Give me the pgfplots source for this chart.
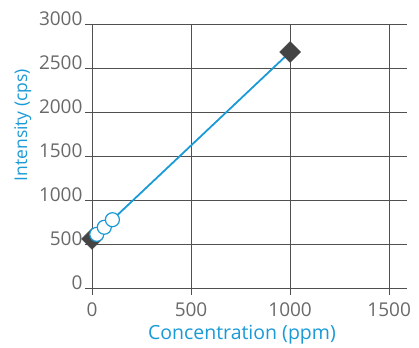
\documentclass[border=0pt]{standalone}
\usepackage{pgfplots}
\pgfplotsset{compat=1.18}
\usepackage{fontspec}
\setmainfont{Open Sans}
\definecolor{cblue}{RGB}{26,154,214}
\definecolor{cgrid}{RGB}{80,80,80}
\definecolor{ctick}{RGB}{105,105,105}
\definecolor{cmark}{RGB}{68,68,68}
\begin{document}
\begin{tikzpicture}
\begin{axis}[
  scale only axis, width=315pt, height=264pt,
  xmin=0, xmax=1590, ymin=0, ymax=3000,
  axis x line=bottom, axis y line=left, axis line style={-, cgrid, line width=0.8pt},
  xtick={0,500,1000,1500}, ytick={0,500,...,3000},
  grid=major, major grid style={cgrid, line width=0.8pt},
  tick align=outside, major tick length=7pt, tick style={cgrid, line width=0.8pt},
  ticklabel style={font=\fontsize{19}{22}\selectfont, text=ctick},
  /pgf/number format/assume math mode=true,
  /pgf/number format/set thousands separator={},
  yticklabel style={yshift=5pt, xshift=1pt},
  xticklabel style={yshift=-4pt},
  xlabel={Concentration (ppm)}, ylabel={Intensity (cps)},
  label style={text=cblue},
  xlabel style={font=\fontsize{19.5}{23}\selectfont, at={(axis description cs:0.476,-0.178)}, anchor=center},
  ylabel style={font=\fontsize{17.5}{21}\selectfont, at={(axis description cs:-0.22,0.617)}, anchor=center},
  clip=false,
]
\addplot[cblue, line width=1.8pt, no marks] coordinates {(0,557) (1000,2682)};
\addplot[only marks, mark=square*, mark size=7.4pt, mark options={rotate=45, fill=cmark, draw=cmark}] coordinates {(0,557) (1000,2682)};
\addplot[only marks, mark=*, mark size=7pt, mark options={fill=white, draw=cblue, line width=1.2pt}] coordinates {(24,610) (62,690) (103,776)};
\end{axis}
\pgfresetboundingbox
\useasboundingbox ([shift={(-92pt,-59pt)}]current axis.south west) rectangle ([shift={(12pt,24pt)}]current axis.north east);
\end{tikzpicture}
\end{document}
